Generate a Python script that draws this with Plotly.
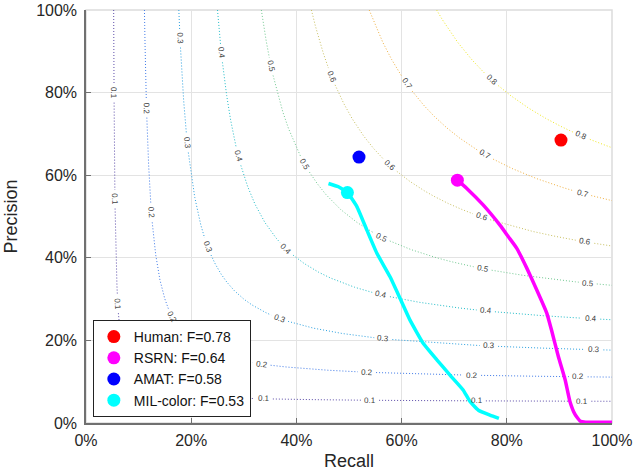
import numpy as np
import plotly.graph_objects as go

# Operating points (recall, precision)
method_names = ["Human: F=0.78", "RSRN: F=0.64", "AMAT: F=0.58", "MIL-color: F=0.53"]
method_colors = ["#ff0000", "#ff00ff", "#0000ff", "#00ffff"]
point_recall = [0.903, 0.706, 0.519, 0.497]
point_precision = [0.685, 0.588, 0.644, 0.558]

# RSRN precision-recall curve
rsrn_recall = [0.706, 0.724, 0.755, 0.787, 0.803, 0.819, 0.838, 0.857, 0.876, 0.885,
               0.898, 0.911, 0.920, 0.930, 0.940, 0.950, 1.000]
rsrn_precision = [0.588, 0.568, 0.528, 0.479, 0.451, 0.423, 0.375, 0.322, 0.266, 0.225,
                  0.161, 0.104, 0.052, 0.020, 0.004, 0.002, 0.002]

# MIL-color precision-recall curve
mil_recall = [0.461, 0.480, 0.497, 0.515, 0.534, 0.553, 0.578, 0.597, 0.616, 0.641,
              0.667, 0.692, 0.717, 0.730, 0.746, 0.768, 0.785]
mil_precision = [0.580, 0.572, 0.558, 0.524, 0.467, 0.411, 0.354, 0.302, 0.249, 0.193,
                 0.153, 0.116, 0.080, 0.052, 0.031, 0.019, 0.011]

# iso-F levels, colours and label placements ('p' = at precision, 'r' = at recall)
f_levels = [0.1, 0.2, 0.3, 0.4, 0.5, 0.6, 0.7, 0.8]
f_colors = ["#5a4aa8", "#3f7ae8", "#2aa0e0", "#20bcc8", "#70c890", "#c8c060", "#f0b040", "#f0e820"]
f_label_spots = [
    [("p", .799), ("p", .542), ("p", .288), ("r", .338), ("r", .540), ("r", .743), ("r", .943)],
    [("p", .762), ("p", .508), ("p", .256), ("r", .334), ("r", .534), ("r", .734), ("r", .936)],
    [("p", .931), ("p", .677), ("p", .427), ("r", .368), ("r", .565), ("r", .766), ("r", .966)],
    [("p", .895), ("p", .645), ("r", .381), ("r", .561), ("r", .760), ("r", .960)],
    [("p", .863), ("r", .416), ("r", .562), ("r", .754), ("r", .954)],
    [("r", .467), ("r", .578), ("r", .752), ("r", .949)],
    [("r", .610), ("r", .759), ("r", .944)],
    [("r", .771), ("r", .942)],
]

tick_vals = [0, 0.2, 0.4, 0.6, 0.8, 1.0]
tick_text = ["0%", "20%", "40%", "60%", "80%", "100%"]

FONT = "Liberation Sans, Arial, sans-serif"
PW, PH = 526.0, 413.0  # plot area size in px (for label angles / gaps)

fig = go.Figure()
annotations = []

for F, col, spots in zip(f_levels, f_colors, f_label_spots):
    rmin = F / (2 - F)
    u = np.linspace(0, 1, 3000)
    R = rmin + (1 - rmin) * u ** 3
    P = np.minimum(F * R / (2 * R - F), 1.0)
    keep = np.ones_like(R, dtype=bool)
    for kind, v in spots:
        if kind == "p":
            lp = v
            lr = F * lp / (2 * lp - F)
        else:
            lr = v
            lp = F * lr / (2 * lr - F)
        slope = -F ** 2 / (2 * lr - F) ** 2
        ang = np.degrees(np.arctan(-slope * PH / PW))
        d = np.hypot((R - lr) * PW, (P - lp) * PH)
        keep &= d > 9
        annotations.append(dict(x=lr, y=lp, xref="x", yref="y", text=f"{F:.1f}",
                                showarrow=False, textangle=ang,
                                font=dict(size=8, color="#404040", family=FONT)))
    Rg = np.where(keep, R, np.nan)
    Pg = np.where(keep, P, np.nan)
    fig.add_trace(go.Scatter(x=Rg, y=Pg, mode="lines", connectgaps=False,
                             line=dict(color=col, width=1, dash="1px,2px"),
                             showlegend=False, hoverinfo="skip"))

fig.add_trace(go.Scatter(x=rsrn_recall, y=rsrn_precision, mode="lines",
                         line=dict(color="#ff00ff", width=3.5, shape="spline", smoothing=0.4),
                         showlegend=False, cliponaxis=False))
fig.add_trace(go.Scatter(x=mil_recall, y=mil_precision, mode="lines",
                         line=dict(color="#00ffff", width=3.5, shape="spline", smoothing=0.4),
                         showlegend=False))

for name, col, rx, py in zip(method_names, method_colors, point_recall, point_precision):
    fig.add_trace(go.Scatter(x=[rx], y=[py], mode="markers", name=name,
                             marker=dict(color=col, size=13, line=dict(width=0))))

axis_common = dict(range=[0, 1], tickvals=tick_vals, ticktext=tick_text,
                   showgrid=True, gridcolor="#e3e3e3", gridwidth=1, automargin=False,
                   zeroline=False, showline=True, linecolor="#707070", linewidth=1.5,
                   ticks="inside", ticklen=5, tickcolor="#707070",
                   ticklabeloverflow="allow",
                   tickfont=dict(size=16, color="#262626", family=FONT))

fig.update_xaxes(**axis_common, ticklabelstandoff=2,
                 title=dict(text="Recall", standoff=8,
                            font=dict(size=18, color="#262626", family=FONT)))
fig.update_yaxes(**axis_common, ticklabelstandoff=4,
                 title=dict(text="Precision", standoff=14,
                            font=dict(size=18, color="#262626", family=FONT)))

fig.add_shape(type="rect", xref="paper", yref="paper", x0=0, y0=0, x1=1, y1=1,
              line=dict(color="#dcdcdc", width=1.5), layer="below")

fig.update_layout(
    width=633, height=471,
    margin=dict(l=86, r=21, t=10, b=48),
    paper_bgcolor="white", plot_bgcolor="white",
    annotations=annotations,
    legend=dict(x=0.013, y=0.0145, xanchor="left", yanchor="bottom",
                bgcolor="white", bordercolor="#222", borderwidth=1,
                font=dict(size=14, color="#111", family=FONT),
                tracegroupgap=0, itemwidth=30),
)

fig.write_html("out.html", config={"displayModeBar": False},
               post_script="document.body.style.margin='0px';")
